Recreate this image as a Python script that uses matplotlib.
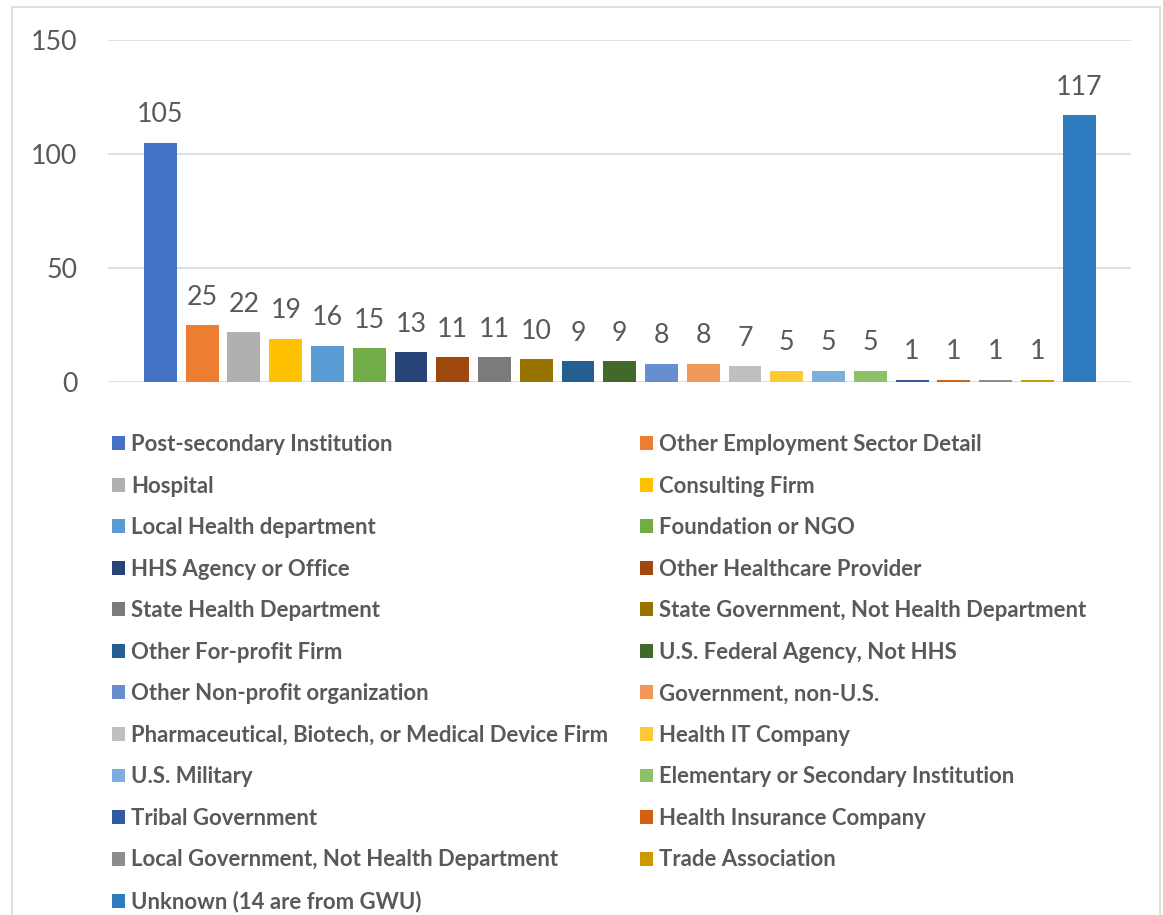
import matplotlib.pyplot as plt
from matplotlib.patches import Rectangle, Patch

# employment sector counts, in the order of the bars
sectors = [
    "Post-secondary Institution", "Other Employment Sector Detail",
    "Hospital", "Consulting Firm",
    "Local Health department", "Foundation or NGO",
    "HHS Agency or Office", "Other Healthcare Provider",
    "State Health Department", "State Government, Not Health Department",
    "Other For-profit Firm", "U.S. Federal Agency, Not HHS",
    "Other Non-profit organization", "Government, non-U.S.",
    "Pharmaceutical, Biotech, or Medical Device Firm", "Health IT Company",
    "U.S. Military", "Elementary or Secondary Institution",
    "Tribal Government", "Health Insurance Company",
    "Local Government, Not Health Department", "Trade Association",
    "Unknown (14 are from GWU)",
]
counts = [105, 25, 22, 19, 16, 15, 13, 11, 11, 10, 9, 9, 8, 8, 7, 5, 5, 5, 1, 1, 1, 1, 117]
colors = [
    "#4472C4", "#ED7D31", "#B0B0B0", "#FFC000", "#5B9BD5", "#70AD47",
    "#264478", "#9E480E", "#7B7B7B", "#997300", "#255E91", "#43682B",
    "#698ED0", "#F1975A", "#BFBFBF", "#FFC935", "#7CAFDD", "#8CC168",
    "#335AA1", "#D26012", "#8C8C8C", "#CC9A00", "#2F7BC0",
]

W, H = 1163, 915
txt = "#595959"
grid = "#D9D9D9"

fig = plt.figure(figsize=(W / 100, H / 100), dpi=100)

# outer chart border
fig.patches.append(Rectangle((12 / W, -0.01), (1160 - 12) / W, 1 - 7 / H + 0.01,
                             transform=fig.transFigure, fill=False,
                             edgecolor=grid, lw=1.2))

ax = fig.add_axes([108 / W, 1 - 382 / H, (1131 - 108) / W, (382 - 40) / H])
x = list(range(len(counts)))
bars = ax.bar(x, counts, width=0.79, color=colors, zorder=3)
ax.bar_label(bars, padding=11, fontsize=19.3, color=txt, family="Lato")

ax.set_ylim(0, 150)
ax.set_yticks([0, 50, 100, 150])
ax.set_xlim(-1.257, len(counts) - 1 + 1.245)
ax.set_xticks([])
ax.grid(axis="y", color=grid, lw=1.2, zorder=0)
for s in ax.spines.values():
    s.set_visible(False)
ax.tick_params(axis="y", length=0, pad=22, labelsize=19.3, labelcolor=txt)
for t in ax.get_yticklabels():
    t.set_family("Lato")

# legend laid out row-wise in two columns
handles = [Patch(facecolor=c) for c in colors]
leg_kw = dict(loc="upper left", frameon=False, borderpad=0, borderaxespad=0,
              handlelength=0.59, handleheight=0.59, handletextpad=0.29,
              labelspacing=0.93, labelcolor=txt,
              prop=dict(family="Lato", weight="bold", size=15.9))
fig.legend(handles[0::2], sectors[0::2], bbox_to_anchor=(112 / W, 1 - 434 / H), **leg_kw)
fig.legend(handles[1::2], sectors[1::2], bbox_to_anchor=(640 / W, 1 - 434 / H), **leg_kw)

fig.savefig("out.png", dpi=100)
